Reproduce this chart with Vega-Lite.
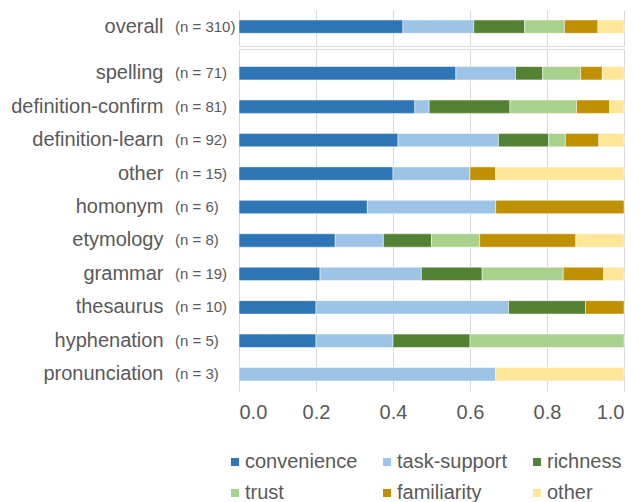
{
  "$schema": "https://vega.github.io/schema/vega-lite/v6.json",
  "padding": {"left": 9, "top": 10, "right": 5, "bottom": 0},
  "spacing": 3,
  "config": {
    "font": "Liberation Sans",
    "view": {"stroke": null},
    "axis": {"labelFont": "Liberation Sans", "labelColor": "#595959", "labelFontSize": 20, "gridColor": "#d9d9d9", "ticks": false, "domain": false, "title": null},
    "axisY": {"minExtent": 230, "maxExtent": 230, "labelPadding": 76, "grid": false}
  },
  "datasets": {
    "reasons": [
      {"group": "overall", "reason": "convenience", "count": 132},
      {"group": "overall", "reason": "task-support", "count": 57},
      {"group": "overall", "reason": "richness", "count": 41},
      {"group": "overall", "reason": "trust", "count": 32},
      {"group": "overall", "reason": "familiarity", "count": 27},
      {"group": "overall", "reason": "other", "count": 21},
      {"group": "spelling", "reason": "convenience", "count": 40},
      {"group": "spelling", "reason": "task-support", "count": 11},
      {"group": "spelling", "reason": "richness", "count": 5},
      {"group": "spelling", "reason": "trust", "count": 7},
      {"group": "spelling", "reason": "familiarity", "count": 4},
      {"group": "spelling", "reason": "other", "count": 4},
      {"group": "definition-confirm", "reason": "convenience", "count": 37},
      {"group": "definition-confirm", "reason": "task-support", "count": 3},
      {"group": "definition-confirm", "reason": "richness", "count": 17},
      {"group": "definition-confirm", "reason": "trust", "count": 14},
      {"group": "definition-confirm", "reason": "familiarity", "count": 7},
      {"group": "definition-confirm", "reason": "other", "count": 3},
      {"group": "definition-learn", "reason": "convenience", "count": 38},
      {"group": "definition-learn", "reason": "task-support", "count": 24},
      {"group": "definition-learn", "reason": "richness", "count": 12},
      {"group": "definition-learn", "reason": "trust", "count": 4},
      {"group": "definition-learn", "reason": "familiarity", "count": 8},
      {"group": "definition-learn", "reason": "other", "count": 6},
      {"group": "other", "reason": "convenience", "count": 6},
      {"group": "other", "reason": "task-support", "count": 3},
      {"group": "other", "reason": "familiarity", "count": 1},
      {"group": "other", "reason": "other", "count": 5},
      {"group": "homonym", "reason": "convenience", "count": 2},
      {"group": "homonym", "reason": "task-support", "count": 2},
      {"group": "homonym", "reason": "familiarity", "count": 2},
      {"group": "etymology", "reason": "convenience", "count": 2},
      {"group": "etymology", "reason": "task-support", "count": 1},
      {"group": "etymology", "reason": "richness", "count": 1},
      {"group": "etymology", "reason": "trust", "count": 1},
      {"group": "etymology", "reason": "familiarity", "count": 2},
      {"group": "etymology", "reason": "other", "count": 1},
      {"group": "grammar", "reason": "convenience", "count": 4},
      {"group": "grammar", "reason": "task-support", "count": 5},
      {"group": "grammar", "reason": "richness", "count": 3},
      {"group": "grammar", "reason": "trust", "count": 4},
      {"group": "grammar", "reason": "familiarity", "count": 2},
      {"group": "grammar", "reason": "other", "count": 1},
      {"group": "thesaurus", "reason": "convenience", "count": 2},
      {"group": "thesaurus", "reason": "task-support", "count": 5},
      {"group": "thesaurus", "reason": "richness", "count": 2},
      {"group": "thesaurus", "reason": "familiarity", "count": 1},
      {"group": "hyphenation", "reason": "convenience", "count": 1},
      {"group": "hyphenation", "reason": "task-support", "count": 1},
      {"group": "hyphenation", "reason": "richness", "count": 1},
      {"group": "hyphenation", "reason": "trust", "count": 2},
      {"group": "pronunciation", "reason": "task-support", "count": 2},
      {"group": "pronunciation", "reason": "other", "count": 1}
    ],
    "sizes": [
      {"group": "overall", "n": 310},
      {"group": "spelling", "n": 71},
      {"group": "definition-confirm", "n": 81},
      {"group": "definition-learn", "n": 92},
      {"group": "other", "n": 15},
      {"group": "homonym", "n": 6},
      {"group": "etymology", "n": 8},
      {"group": "grammar", "n": 19},
      {"group": "thesaurus", "n": 10},
      {"group": "hyphenation", "n": 5},
      {"group": "pronunciation", "n": 3}
    ]
  },
  "vconcat": [
    {
      "width": 385,
      "height": 36,
      "layer": [
        {
          "data": {"name": "reasons"},
          "transform": [
            {"filter": "datum.group === 'overall'"},
            {"calculate": "indexof(['convenience','task-support','richness','trust','familiarity','other'], datum.reason)", "as": "rank"}
          ],
          "mark": {"type": "bar", "stroke": "white", "strokeWidth": 0.5},
          "encoding": {
            "y": {"field": "group", "type": "nominal", "scale": {"paddingInner": 0.6, "paddingOuter": 0.341, "align": 0.44}, "axis": {"labelFontSize": 20}},
            "x": {"field": "count", "type": "quantitative", "stack": "normalize", "axis": {"orient": "bottom", "grid": true, "labels": false, "domain": true, "domainColor": "#d9d9d9", "values": [0, 0.2, 0.4, 0.6, 0.8, 1]}},
            "color": {
              "field": "reason", "type": "nominal", "title": null,
              "scale": {"domain": ["convenience", "task-support", "richness", "trust", "familiarity", "other"], "range": ["#2E75B6", "#9DC3E6", "#548235", "#A9D18E", "#BF9000", "#FFE699"]},
              "legend": {"orient": "none", "legendX": -14, "legendY": 442, "columns": 3, "direction": "horizontal", "symbolType": "square", "symbolSize": 64, "symbolStrokeWidth": 0, "labelFontSize": 20, "labelColor": "#595959", "labelFont": "Liberation Sans", "labelOffset": 0, "columnPadding": 19, "rowPadding": 11, "padding": 0, "gridAlign": "each", "labelLimit": 300}
            },
            "order": {"field": "rank"}
          }
        },
        {
          "data": {"name": "sizes"},
          "transform": [
            {"filter": "datum.group === 'overall'"},
            {"calculate": "'(n = ' + datum.n + ')'", "as": "label"}
          ],
          "mark": {"type": "text", "align": "left", "baseline": "middle", "dx": -64, "fontSize": 15, "color": "#595959", "font": "Liberation Sans"},
          "encoding": {
            "y": {"field": "group", "type": "nominal"},
            "x": {"datum": 0, "axis": {"orient": "bottom", "grid": true, "labels": false, "domain": true, "domainColor": "#d9d9d9", "values": [0, 0.2, 0.4, 0.6, 0.8, 1]}},
            "text": {"field": "label"}
          }
        }
      ]
    },
    {
      "width": 385,
      "height": 342,
      "resolve": {"axis": {"x": "independent"}},
      "layer": [
        {
          "data": {"name": "reasons"},
          "transform": [
            {"filter": "datum.group !== 'overall'"},
            {"calculate": "indexof(['convenience','task-support','richness','trust','familiarity','other'], datum.reason)", "as": "rank"}
          ],
          "mark": {"type": "bar", "stroke": "white", "strokeWidth": 0.5},
          "encoding": {
            "y": {"field": "group", "type": "nominal", "sort": ["spelling", "definition-confirm", "definition-learn", "other", "homonym", "etymology", "grammar", "thesaurus", "hyphenation", "pronunciation"], "scale": {"paddingInner": 0.6, "paddingOuter": 0.4136, "align": 0.635}},
            "x": {"field": "count", "type": "quantitative", "stack": "normalize", "axis": {"orient": "bottom", "grid": true, "labels": true, "domain": false, "labelExpr": "format(datum.value, '.1f')", "labelPadding": 11, "values": [0, 0.2, 0.4, 0.6, 0.8, 1]}},
            "color": {
              "field": "reason", "type": "nominal", "title": null,
              "scale": {"domain": ["convenience", "task-support", "richness", "trust", "familiarity", "other"], "range": ["#2E75B6", "#9DC3E6", "#548235", "#A9D18E", "#BF9000", "#FFE699"]},
              "legend": {"orient": "none", "legendX": -14, "legendY": 442, "columns": 3, "direction": "horizontal", "symbolType": "square", "symbolSize": 64, "symbolStrokeWidth": 0, "labelFontSize": 20, "labelColor": "#595959", "labelFont": "Liberation Sans", "labelOffset": 0, "columnPadding": 19, "rowPadding": 11, "padding": 0, "gridAlign": "each", "labelLimit": 300}
            },
            "order": {"field": "rank"}
          }
        },
        {
          "data": {"name": "sizes"},
          "transform": [
            {"filter": "datum.group !== 'overall'"},
            {"calculate": "'(n = ' + datum.n + ')'", "as": "label"}
          ],
          "mark": {"type": "text", "align": "left", "baseline": "middle", "dx": -64, "fontSize": 15, "color": "#595959", "font": "Liberation Sans"},
          "encoding": {
            "y": {"field": "group", "type": "nominal", "sort": ["spelling", "definition-confirm", "definition-learn", "other", "homonym", "etymology", "grammar", "thesaurus", "hyphenation", "pronunciation"]},
            "x": {"datum": 0, "axis": {"orient": "top", "grid": false, "labels": false, "domain": true, "domainColor": "#d9d9d9"}},
            "text": {"field": "label"}
          }
        }
      ]
    }
  ]
}
